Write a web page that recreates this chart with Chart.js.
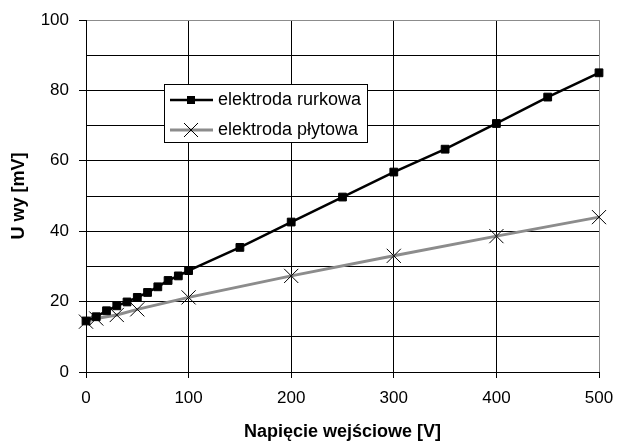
<!DOCTYPE html>
<html>
<head>
<meta charset="utf-8">
<style>
  html, body { margin: 0; padding: 0; background: #fff; }
  #wrap { width: 617px; height: 441px; position: relative; }
</style>
</head>
<body>
<div id="wrap"><canvas id="chart" width="617" height="441"></canvas></div>

<script src="https://cdn.jsdelivr.net/npm/chart.js"></script>
<script>
  // values
  const rurkowaX = [0, 10, 20, 30, 40, 50, 60, 70, 80, 90, 100, 150, 200, 250, 300, 350, 400, 450, 500];
  const rurkowaY = [14.5, 15.7, 17.4, 18.8, 19.9, 21.2, 22.6, 24.2, 26.0, 27.3, 28.8, 35.4, 42.6, 49.7, 56.8, 63.3, 70.6, 78.1, 85.0];
  const plytowaX = [0, 10, 30, 50, 100, 200, 300, 400, 500];
  const plytowaY = [14.3, 15.2, 16.2, 17.8, 21.2, 27.3, 33.0, 38.6, 44.0];

  const seriesNames = ['elektroda rurkowa', 'elektroda płytowa'];
  const xTitle = 'Napięcie wejściowe [V]';
  const yTitle = 'U wy [mV]';

  const FONT = 'Arial, "Liberation Sans", sans-serif';
  const GRAY = '#8c8c8c';

  function toPoints(xs, ys) {
    return xs.map((x, i) => ({ x: x, y: ys[i] }));
  }

  // legend box drawn inside the plot, like the original
  const boxLegend = {
    id: 'boxLegend',
    afterDraw(chart) {
      const ctx = chart.ctx;
      const left = 164.5, top = 84.5, w = 203, h = 58;
      ctx.save();
      ctx.fillStyle = '#fff';
      ctx.fillRect(left, top, w, h);
      ctx.strokeStyle = '#000';
      ctx.lineWidth = 1;
      ctx.strokeRect(left, top, w, h);

      const rows = [100, 130];
      // row 1: black line with square
      ctx.beginPath();
      ctx.strokeStyle = '#000';
      ctx.lineWidth = 2.5;
      ctx.moveTo(170, rows[0]);
      ctx.lineTo(213, rows[0]);
      ctx.stroke();
      ctx.fillStyle = '#000';
      ctx.fillRect(187, rows[0] - 4, 8, 8);

      // row 2: gray line with cross
      ctx.beginPath();
      ctx.strokeStyle = GRAY;
      ctx.lineWidth = 3;
      ctx.moveTo(170, rows[1]);
      ctx.lineTo(213, rows[1]);
      ctx.stroke();
      ctx.beginPath();
      ctx.strokeStyle = '#000';
      ctx.lineWidth = 1;
      ctx.moveTo(184, rows[1] - 7);
      ctx.lineTo(198, rows[1] + 7);
      ctx.moveTo(198, rows[1] - 7);
      ctx.lineTo(184, rows[1] + 7);
      ctx.stroke();

      ctx.fillStyle = '#000';
      ctx.font = '18px ' + FONT;
      ctx.textBaseline = 'middle';
      ctx.textAlign = 'left';
      ctx.fillText(seriesNames[0], 218, rows[0]);
      ctx.fillText(seriesNames[1], 218, rows[1]);
      ctx.restore();
    }
  };

  new Chart(document.getElementById('chart'), {
    type: 'line',
    data: {
      datasets: [{
        label: seriesNames[0],
        data: toPoints(rurkowaX, rurkowaY),
        borderColor: '#000',
        backgroundColor: '#000',
        borderWidth: 2.5,
        pointStyle: 'rect',
        pointRadius: 5.5,
        pointBorderWidth: 1,
        tension: 0,
        clip: false
      }, {
        label: seriesNames[1],
        data: toPoints(plytowaX, plytowaY),
        borderColor: GRAY,
        borderWidth: 3,
        pointStyle: 'crossRot',
        pointRadius: 10,
        pointBorderColor: '#000',
        pointBorderWidth: 1,
        tension: 0,
        clip: false
      }]
    },
    options: {
      responsive: false,
      animation: false,
      layout: { autoPadding: false, padding: { top: 20, right: 18, left: 0, bottom: 0 } },
      plugins: {
        legend: { display: false },
        tooltip: { enabled: false }
      },
      scales: {
        x: {
          type: 'linear',
          min: 0,
          max: 500,
          afterFit(scale) {
            scale.height = 69;
            scale.paddingLeft = 0;
            scale.paddingRight = 0;
          },
          ticks: {
            stepSize: 100,
            color: '#000',
            padding: 10,
            font: { family: FONT, size: 17 }
          },
          grid: {
            color: c => c.tick && c.tick.value === 500 ? GRAY : '#000',
            tickColor: '#000',
            tickLength: 6
          },
          border: { color: '#000', width: 1 },
          title: {
            display: true,
            text: xTitle,
            color: '#000',
            font: { family: FONT, size: 18, weight: 'bold', lineHeight: 1 },
            padding: { top: 0, bottom: 0 }
          }
        },
        y: {
          min: 0,
          max: 100,
          afterFit(scale) {
            scale.width = 86;
            scale.paddingTop = 0;
            scale.paddingBottom = 0;
          },
          ticks: {
            stepSize: 10,
            autoSkip: false,
            color: '#000',
            padding: 10,
            font: { family: FONT, size: 17 },
            callback: v => (v % 20 === 0 ? v : '')
          },
          grid: {
            color: c => c.tick && c.tick.value === 100 ? GRAY : '#000',
            tickColor: c => c.tick && c.tick.value % 20 === 0 ? '#000' : 'rgba(0,0,0,0)',
            tickLength: 7
          },
          border: { color: '#000', width: 1 },
          title: {
            display: true,
            text: yTitle,
            color: '#000',
            font: { family: FONT, size: 18, weight: 'bold', lineHeight: 1.2 },
            padding: { top: 8, bottom: 0 }
          }
        }
      }
    },
    plugins: [boxLegend]
  });
</script>
</body>
</html>
